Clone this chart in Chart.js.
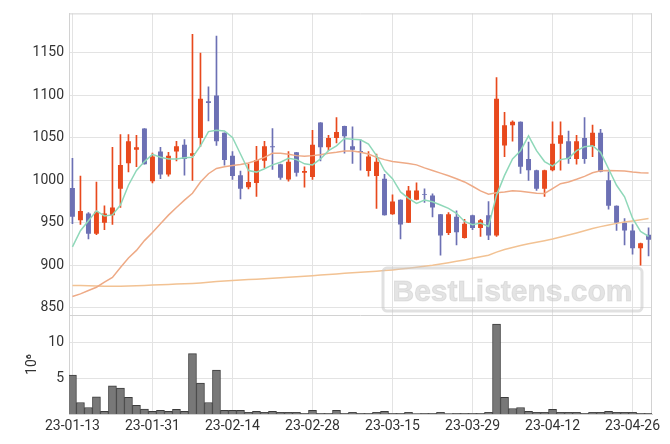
<!DOCTYPE html>
<html>
<head>
<meta charset="utf-8">
<script src="https://cdn.jsdelivr.net/npm/chart.js@4.4.1/dist/chart.umd.min.js"></script>
<style>
  html, body { margin: 0; padding: 0; background: #fff; }
  canvas { display: block; }
</style>
</head>
<body>
<canvas id="stockChart" width="670" height="444"></canvas>
<script>
/* ==========================================
   DATA
========================================== */

const dates = [
  '23-01-13','23-01-16','23-01-17','23-01-18','23-01-19','23-01-20','23-01-25','23-01-26','23-01-27','23-01-30','23-01-31',
  '23-02-01','23-02-02','23-02-03','23-02-06','23-02-07','23-02-08','23-02-09','23-02-10','23-02-13','23-02-14',
  '23-02-15','23-02-16','23-02-17','23-02-20','23-02-21','23-02-22','23-02-23','23-02-24','23-02-27','23-02-28',
  '23-03-02','23-03-03','23-03-06','23-03-07','23-03-08','23-03-09','23-03-10','23-03-13','23-03-14','23-03-15',
  '23-03-16','23-03-17','23-03-20','23-03-21','23-03-22','23-03-23','23-03-24','23-03-27','23-03-28','23-03-29',
  '23-03-30','23-03-31','23-04-03','23-04-04','23-04-05','23-04-06','23-04-07','23-04-10','23-04-11','23-04-12',
  '23-04-13','23-04-14','23-04-17','23-04-18','23-04-19','23-04-20','23-04-21','23-04-24','23-04-25','23-04-26',
  '23-04-27','23-04-28'
];

const open = [
  991, 953, 961, 937, 950, 959, 990, 1020, 1036, 1061,
  999, 1034, 1007, 1034, 1042, 1029, 1050, 1093, 1100, 1056,
  1029, 1006, 992, 997, 1023, 1040, 1019, 1001, 1033, 1009,
  1004, 1068, 1039, 1050, 1064, 1040, 1034.5, 1011, 1005, 1002,
  960, 977, 950, 977, 984, 982, 960, 938, 957, 932,
  959, 944, 959, 935, 1041, 1065, 1069, 1025, 1012, 990,
  1012, 1043, 1046, 1025, 1050, 1040, 1056, 1000, 970, 950,
  941, 920, 936
];

const high = [
  1026, 1005, 962, 998, 970, 1039, 1054, 1054, 1053, 1061,
  1032, 1039, 1033, 1046, 1048, 1172, 1150, 1110, 1170, 1056,
  1034, 1011, 1019, 1040, 1046, 1061, 1019, 1034, 1033, 1016,
  1059, 1068, 1053, 1074, 1064, 1063, 1048, 1034, 1031, 1007,
  983, 977, 993, 997, 990, 984, 960, 962, 964, 954,
  959, 954, 975, 1121, 1080, 1070, 1069, 1045, 1012, 1012,
  1069, 1069, 1058, 1053, 1074, 1065, 1060, 1010, 970, 955,
  948, 926, 944
];

const low = [
  949, 948, 931, 936, 942, 948, 968, 1010, 1016, 1019,
  997, 1002, 1005, 1023, 1006, 1000, 1040, 1070, 1041, 1018,
  1001, 978, 990, 981, 1015, 1013, 1001, 999, 1005, 992,
  1001, 1023, 1035, 1044, 1032, 1020, 1012, 1005, 967, 959,
  960, 931, 950, 977, 974, 957, 912, 936, 924, 932,
  942, 934, 930, 934, 1028, 1046, 1008, 1000, 988, 981,
  1011, 1012, 1020, 1019, 1020, 1028, 1010, 966, 941, 924,
  913, 900, 911
];

const close = [
  957, 964, 937, 963, 961, 968, 1018, 1046, 1039, 1019,
  1028, 1007, 1029, 1040, 1025, 1032, 1096, 1091, 1046, 1024,
  1005, 990, 998, 1024, 1040, 1039, 1003, 1022, 1009, 1011,
  1042, 1039, 1050, 1057, 1052, 1036, 1033.5, 1028, 1022, 959,
  975, 948, 988, 988, 983, 968, 935, 960, 939, 949,
  944, 953, 935, 1096, 1065, 1069, 1016, 1012, 990, 1012,
  1043, 1053, 1025, 1046, 1025, 1056, 1010, 970, 950, 941,
  920, 926, 930
];

const ma5 = [
  921.7, 940.7, 952.3, 964, 958, 959.3, 970.9, 994.2, 1011.6, 1022.1,
  1030.6, 1027.1, 1025.2, 1025.2, 1026.7, 1027.1, 1040.7, 1057.4, 1058.9, 1058.1,
  1050.4, 1031, 1011.6, 1009.7, 1013.6, 1018.2, 1021.3, 1026, 1024.4, 1019.4,
  1018.2, 1025.2, 1034.9, 1040.7, 1049.2, 1048.4, 1047.7, 1042.6, 1029.1, 1011.6,
  1001.9, 986.4, 978.7, 972.9, 976.7, 974.8, 970.9, 967, 961.2, 951.6,
  947.7, 949.6, 945.7, 982.6, 1005.8, 1025.2, 1034.9, 1052.3, 1034.9, 1022.1,
  1016.7, 1024.4, 1026, 1034.9, 1039.5, 1040.7, 1033, 1013.6, 994.2, 980.6,
  955.4, 939.9, 934.1
];

const ma20 = [
  863.2, 866.3, 870.2, 874.1, 880, 885.7, 897.3, 908.5, 917.5, 929,
  938.5, 949, 959, 968, 976.7, 984.8, 998, 1007.8, 1014, 1015.9,
  1017.4, 1018.6, 1020.5, 1023.3, 1027.1, 1031.8, 1031.8, 1030.6, 1029.1, 1028.3,
  1029.1, 1030.2, 1031.8, 1033, 1034.5, 1034.5, 1033, 1031, 1027.1, 1024.4,
  1022.1, 1020.9, 1019.8, 1018.2, 1014.7, 1011.6, 1008.5, 1005.4, 1001.9, 998.1,
  993, 987.6, 983.7, 985.5, 986.4, 987.6, 987.2, 986, 984.9, 984.5,
  990.3, 996.1, 998.1, 1001.2, 1004.7, 1008.9, 1011.2, 1011.6, 1011.2, 1010.9,
  1009.7, 1008.9, 1008.5
];

const ma120 = [
  876, 876, 875.8, 875.6, 875.4, 875.3, 875.4, 875.6, 875.9, 876.2,
  876.6, 877, 877.4, 877.8, 878.2, 878.6, 879.2, 880, 880.8, 881.5,
  882.1, 882.6, 883.1, 883.6, 884.1, 884.6, 885.2, 885.8, 886.4, 887,
  887.7, 888.4, 889.1, 889.8, 890.5, 891.2, 891.8, 892.4, 893, 893.7,
  894.5, 895.5, 896.6, 897.7, 898.8, 900, 901.5, 903, 904.6, 906.3,
  908.2, 910, 911.8, 915.5, 918.5, 921, 923.2, 925.2, 927, 928.8,
  930.8, 933.2, 935.6, 938, 940.6, 943.2, 945.5, 947.5, 949.3, 950.8,
  952.2, 953.6, 955
];

// volume in millions of shares
const volume = [
  5.4, 1.6, 0.9, 2.4, 0.36, 3.9, 3.6, 2.3, 1.2, 0.7,
  0.36, 0.5, 0.36, 0.64, 0.36, 8.4, 4.3, 1.6, 6.1, 0.5,
  0.5, 0.5, 0.23, 0.36, 0.23, 0.36, 0.23, 0.23, 0.23, 0.1,
  0.5, 0.1, 0.1, 0.5, 0.1, 0.23, 0.1, 0.1, 0.23, 0.36,
  0.1, 0.1, 0.23, 0.05, 0.1, 0.1, 0.23, 0.05, 0.1, 0.1,
  0.1, 0.1, 0.23, 12.5, 2.3, 0.77, 0.9, 0.36, 0.23, 0.23,
  0.64, 0.23, 0.23, 0.23, 0.1, 0.23, 0.23, 0.36, 0.23, 0.23,
  0.23, 0.1, 0.1
];

const xTicks = [0, 10, 20, 30, 40, 50, 60, 70];
const priceTicks = [850, 900, 950, 1000, 1050, 1100, 1150];
const volumeTicks = [5, 10];

const xRange = [-0.43, 72.43];
const priceRange = [841.3, 1196.6];
const volumeRange = [0, 13.75];


/* ==========================================
   STYLE
========================================== */

const upColor = "#e8491d";
const downColor = "#6c70b4";
const gridColor = "#e3e3e3";
const frameColor = "#d2d2d2";
const textColor = "#333";

Chart.defaults.font.family = "Roboto";
Chart.defaults.font.size = 14;

const candleColor = ctx =>
  close[ctx.dataIndex] >= open[ctx.dataIndex] ? upColor : downColor;


/* ==========================================
   PLUGINS
========================================== */

const framePlugin = {
  id: "frame",
  beforeDatasetsDraw(chart) {
    const {ctx, chartArea: a, scales} = chart;
    const sep = Math.round(scales.y.bottom) + 0.5;
    ctx.save();
    ctx.strokeStyle = frameColor;
    ctx.lineWidth = 1;
    ctx.beginPath();
    ctx.moveTo(a.left, a.top + 0.5);
    ctx.lineTo(a.right, a.top + 0.5);
    ctx.moveTo(a.right - 0.5, a.top);
    ctx.lineTo(a.right - 0.5, a.bottom);
    ctx.moveTo(a.left, sep);
    ctx.lineTo(a.right, sep);
    ctx.stroke();
    ctx.restore();
  }
};

const watermarkPlugin = {
  id: "watermark",
  afterDatasetsDraw(chart) {
    const {ctx, chartArea: a, scales} = chart;
    const x0 = a.right - 269, x1 = a.right - 10;
    const y0 = scales.y.bottom - 47, y1 = scales.y.bottom - 4;
    ctx.save();
    ctx.strokeStyle = "rgba(200,200,200,0.55)";
    ctx.lineWidth = 3;
    ctx.beginPath();
    ctx.roundRect(x0, y0, x1 - x0, y1 - y0, 4);
    ctx.stroke();
    ctx.font = "bold 30px 'Liberation Sans', Arial, sans-serif";
    ctx.textAlign = "center";
    ctx.textBaseline = "alphabetic";
    ctx.fillStyle = "rgba(205,205,205,0.55)";
    ctx.fillText("BestListens.com", (x0 + x1) / 2, y1 - 10);
    ctx.strokeStyle = "rgba(190,190,190,0.35)";
    ctx.lineWidth = 1;
    ctx.strokeText("BestListens.com", (x0 + x1) / 2, y1 - 10);
    ctx.restore();
  }
};


/* ==========================================
   CHART
========================================== */

const xy = arr => arr.map((v, i) => ({x: i, y: v}));

new Chart(document.getElementById("stockChart"), {

  type: "bar",

  data: {
    datasets: [
      {
        type: "line", label: "MA5", yAxisID: "y", order: 0,
        data: xy(ma5),
        borderColor: "#8fd8b9", borderWidth: 1.5, pointRadius: 0
      },
      {
        type: "line", label: "MA20", yAxisID: "y", order: 0,
        data: xy(ma20),
        borderColor: "#eeaa86", borderWidth: 1.5, pointRadius: 0
      },
      {
        type: "line", label: "MA120", yAxisID: "y", order: 0,
        data: xy(ma120),
        borderColor: "#f2c293", borderWidth: 1.5, pointRadius: 0
      },
      {
        label: "Body", yAxisID: "y", order: 1, grouped: false,
        data: open.map((o, i) => ({x: i, y: [o, close[i]]})),
        backgroundColor: candleColor,
        categoryPercentage: 1, barPercentage: 0.62
      },
      {
        label: "Wick", yAxisID: "y", order: 2, grouped: false,
        data: low.map((l, i) => ({x: i, y: [l, high[i]]})),
        backgroundColor: candleColor,
        barThickness: 1
      },
      {
        label: "Volume", yAxisID: "y2", order: 3, grouped: false,
        data: xy(volume),
        backgroundColor: "#787878", borderColor: "#3c3c3c", borderWidth: 1,
        categoryPercentage: 1, barPercentage: 1
      }
    ]
  },

  options: {
    responsive: false,
    animation: false,
    layout: {padding: {top: 9, right: 18, bottom: 0, left: 0}},
    plugins: {
      legend: {display: false},
      tooltip: {enabled: false}
    },
    scales: {
      x: {
        type: "linear",
        offset: false,
        min: xRange[0], max: xRange[1],
        afterBuildTicks: s => { s.ticks = xTicks.map(v => ({value: v})); },
        afterFit: s => { s.height = 30; },
        grid: {color: gridColor, drawTicks: false, offset: false},
        border: {color: frameColor},
        ticks: {
          color: textColor, padding: 4, maxRotation: 0, autoSkip: false,
          callback: v => dates[v]
        }
      },
      y: {
        position: "left", stack: "panes", stackWeight: 3.05, weight: 1,
        min: priceRange[0], max: priceRange[1],
        afterBuildTicks: s => { s.ticks = priceTicks.map(v => ({value: v})); },
        afterFit: s => { s.width = 69; },
        grid: {color: gridColor, drawTicks: false},
        border: {color: frameColor},
        ticks: {color: textColor, padding: 5, callback: v => String(v)}
      },
      y2: {
        position: "left", stack: "panes", stackWeight: 1, weight: 0,
        min: volumeRange[0], max: volumeRange[1],
        afterBuildTicks: s => { s.ticks = volumeTicks.map(v => ({value: v})); },
        afterFit: s => { s.width = 69; },
        grid: {color: gridColor, drawTicks: false},
        border: {color: frameColor},
        ticks: {color: textColor, padding: 5, callback: v => String(v)},
        title: {
          display: true, text: "10⁶", color: textColor,
          padding: {top: 24, bottom: 0}
        }
      }
    }
  },

  plugins: [framePlugin, watermarkPlugin]

});
</script>
</body>
</html>
